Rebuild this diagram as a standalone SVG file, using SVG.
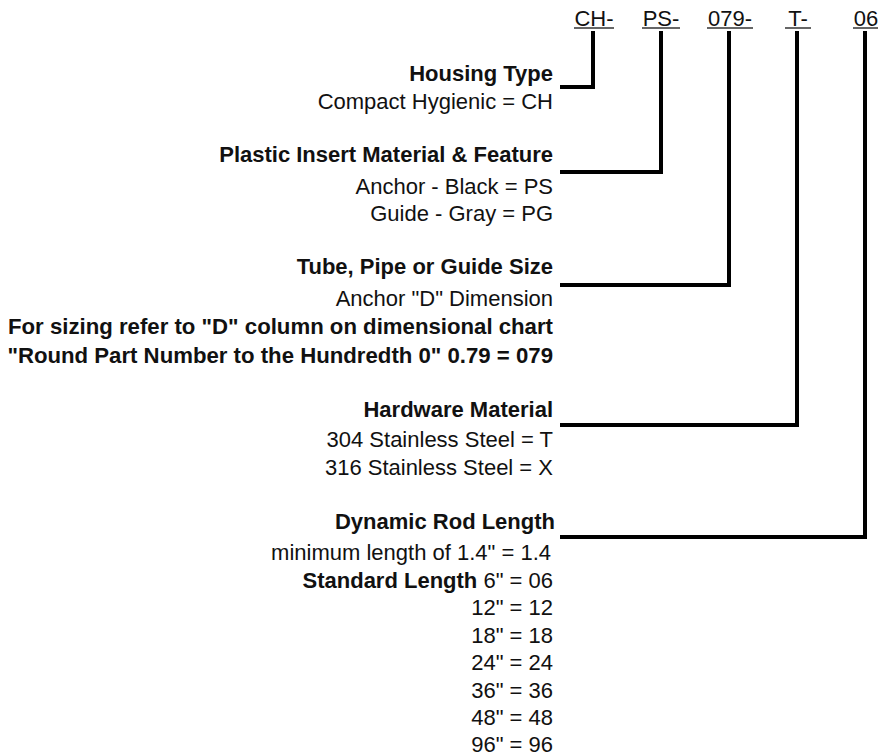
<svg xmlns="http://www.w3.org/2000/svg" width="879" height="755" viewBox="0 0 879 755">
<style>
text{font-family:"Liberation Sans",Arial,sans-serif;font-size:22px;fill:#111}
.r{text-anchor:end}
.c{text-anchor:middle}
.b{font-weight:bold}
.ul{stroke:#333;stroke-width:1.5}
.con{fill:none;stroke:#000;stroke-width:4;stroke-linejoin:miter}
</style>
<rect width="879" height="755" fill="#fff"/>
<g id="codes">
<g id="code-ch"><text class="c" x="594" y="25.5">CH-</text><line class="ul" x1="574" y1="28" x2="614" y2="28"/></g>
<g id="code-ps"><text class="c" x="661" y="25.5">PS-</text><line class="ul" x1="642" y1="28" x2="680" y2="28"/></g>
<g id="code-079"><text class="c" x="730" y="25.5">079-</text><line class="ul" x1="707" y1="28" x2="753" y2="28"/></g>
<g id="code-t"><text class="c" x="798" y="25.5">T-</text><line class="ul" x1="785" y1="28" x2="811" y2="28"/></g>
<g id="code-06"><text class="c" x="866" y="25.5">06</text><line class="ul" x1="853" y1="28" x2="878" y2="28"/></g>
</g>
<g id="connectors">
<polyline class="con" points="593,31 593,87 560,87"/>
<polyline class="con" points="661,31 661,172 560,172"/>
<polyline class="con" points="729,31 729,285 560,285"/>
<polyline class="con" points="797,31 797,425 560,425"/>
<polyline class="con" points="865,31 865,537 560,537"/>
</g>
<g id="housing-type">
<text class="r b" x="553" y="80.5">Housing Type</text>
<text class="r" x="553" y="109">Compact Hygienic = CH</text>
</g>
<g id="plastic-insert">
<text class="r b" x="553" y="162">Plastic Insert Material &amp; Feature</text>
<text class="r" x="553" y="193.5">Anchor - Black = PS</text>
<text class="r" x="553" y="221">Guide - Gray = PG</text>
</g>
<g id="tube-size">
<text class="r b" x="553" y="273.5">Tube, Pipe or Guide Size</text>
<text class="r" x="553" y="305.5">Anchor "D" Dimension</text>
<text class="r b" x="553" y="334" style="font-size:22.2px">For sizing refer to "D" column on dimensional chart</text>
<text class="r b" x="553" y="362.5" style="font-size:22.2px">"Round Part Number to the Hundredth 0" 0.79 = 079</text>
</g>
<g id="hardware-material">
<text class="r b" x="553" y="416.5">Hardware Material</text>
<text class="r" x="553" y="447">304 Stainless Steel = T</text>
<text class="r" x="553" y="475">316 Stainless Steel = X</text>
</g>
<g id="rod-length">
<text class="r b" x="555" y="529">Dynamic Rod Length</text>
<text class="r" x="551" y="560">minimum length of 1.4" = 1.4</text>
<text class="r" x="553" y="588"><tspan class="b">Standard Length</tspan> 6" = 06</text>
<text class="r" x="553" y="615">12" = 12</text>
<text class="r" x="553" y="642.5">18" = 18</text>
<text class="r" x="553" y="670">24" = 24</text>
<text class="r" x="553" y="697.5">36" = 36</text>
<text class="r" x="553" y="724.5">48" = 48</text>
<text class="r" x="553" y="751.5">96" = 96</text>
</g>
</svg>
